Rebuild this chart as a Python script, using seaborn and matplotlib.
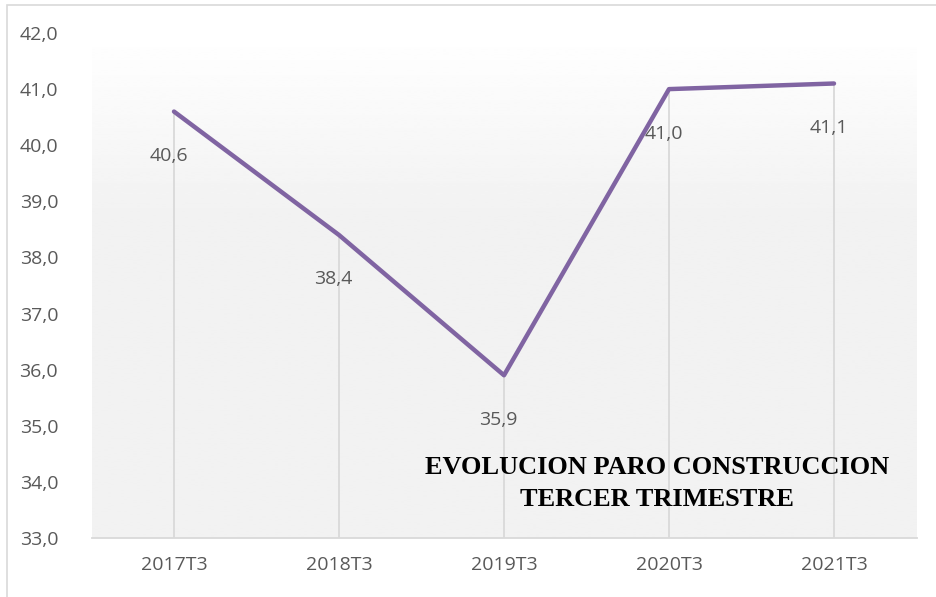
import numpy as np
import matplotlib
matplotlib.use("Agg")
import matplotlib.pyplot as plt
from matplotlib.ticker import FuncFormatter
from matplotlib.patches import Rectangle
import seaborn as sns
import pandas as pd

categories = ["2017T3", "2018T3", "2019T3", "2020T3", "2021T3"]
values = [40.6, 38.4, 35.9, 41.0, 41.1]
y_ticks = [33, 34, 35, 36, 37, 38, 39, 40, 41, 42]
title = "EVOLUCION PARO CONSTRUCCION\nTERCER TRIMESTRE"

sns.set_theme(style="white")
plt.rcParams['font.family'] = ['Open Sans', 'DejaVu Sans']

W, H = 936, 597
fig = plt.figure(figsize=(W / 100, H / 100), dpi=100)
fig.patch.set_facecolor("white")

# outer frame
fig.patches.append(Rectangle((7 / W, -0.05), 1.2, 1 - 5 / H + 0.05, transform=fig.transFigure,
                             fill=False, edgecolor="#d9d9d9", linewidth=1.2, zorder=0))

ax = fig.add_axes([91.5 / W, 59 / H, 825 / W, 505 / H])
ax.set_facecolor("white")

# gradient background
grad = np.ones((200, 1))
t = np.linspace(0, 1, 200)  # 0 top -> 1 bottom
grad[:, 0] = 1.0 - 0.051 * np.clip(t / 0.35, 0, 1)
ax.imshow(grad, extent=[0, 1, 0, 1], transform=ax.transAxes, cmap="gray", vmin=0, vmax=1,
          aspect="auto", zorder=0, interpolation="bilinear")

df = pd.DataFrame({"cat": categories, "val": values})
xs = np.arange(len(categories))

# drop lines
ax.vlines(xs, 33, values, colors="#d9d9d9", linewidth=1.3, zorder=1)

sns.lineplot(data=df, x="cat", y="val", ax=ax, color="#8064a2", linewidth=3.2,
             sort=False, zorder=3)

for x, v in zip(xs, values):
    ax.annotate(f"{v:.1f}".replace(".", ","), (x, v), xytext=(-4, -32),
                textcoords="offset points", ha="center", va="center",
                fontsize=14, color="#595959", zorder=4)

ax.set_xlim(-0.5, 4.5)
ax.set_ylim(33, 42)
ax.set_yticks(y_ticks)
ax.yaxis.set_major_formatter(FuncFormatter(lambda v, p: f"{v:.1f}".replace(".", ",")))
ax.set_xticks(xs)
ax.set_xticklabels(categories)
ax.tick_params(axis="both", length=0, labelsize=14, colors="#595959")
ax.tick_params(axis="y", pad=24)
ax.tick_params(axis="x", pad=13)
ax.set_xlabel("")
ax.set_ylabel("")
for s in ["top", "right", "left"]:
    ax.spines[s].set_visible(False)
ax.spines["bottom"].set_color("#d9d9d9")
ax.spines["bottom"].set_linewidth(1.3)
ax.spines["bottom"].set_zorder(2)

fig.text(657 / W, 1 - 483.5 / H, title, ha="center", va="center", multialignment="center",
         fontsize=19, fontweight="bold", family=["Liberation Serif", "DejaVu Serif"],
         color="black", linespacing=1.45)

fig.savefig("out.png", dpi=100)
